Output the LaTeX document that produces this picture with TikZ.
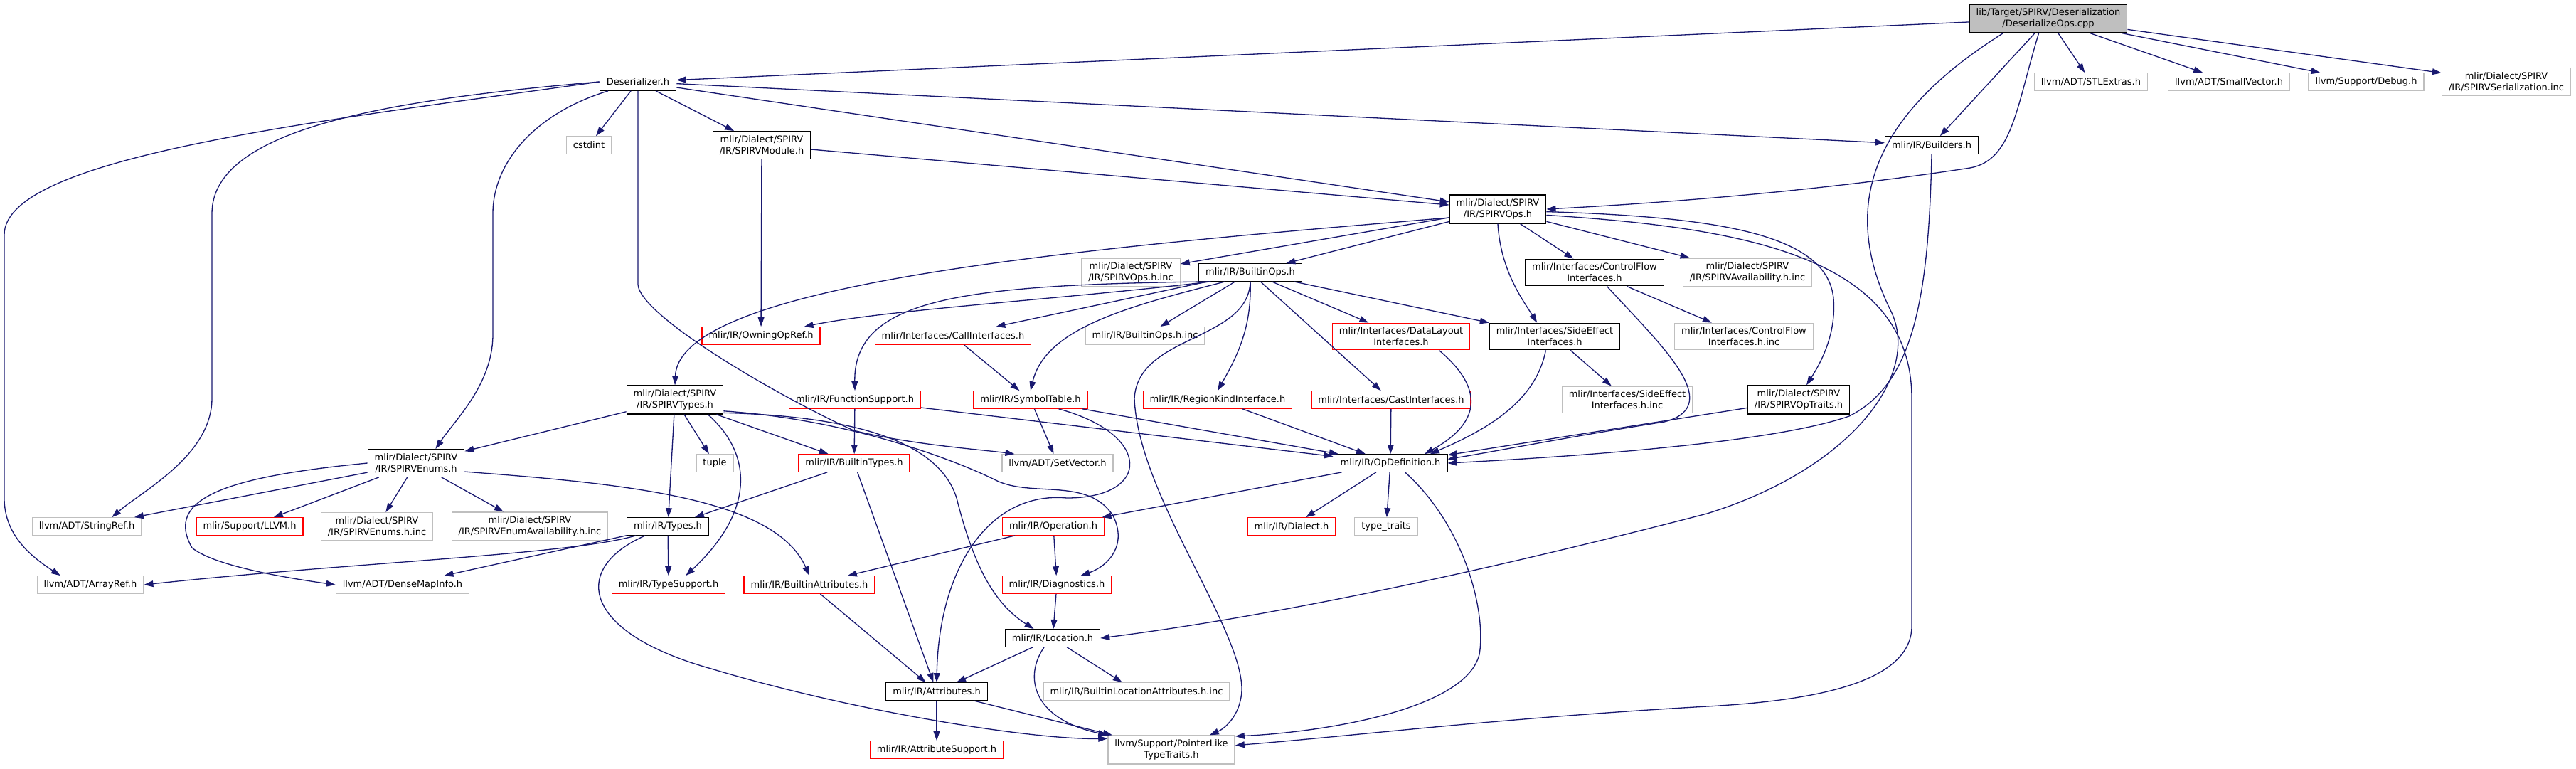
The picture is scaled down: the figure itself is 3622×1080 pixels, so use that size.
\documentclass[tikz,border=0pt]{standalone}
\usepackage{fontspec}
\newfontfamily\graphfont{DejaVu Sans}
\usetikzlibrary{arrows.meta}

\definecolor{edgeblue}{HTML}{191970}
\definecolor{nodegrey}{HTML}{BFBFBF}

\tikzset{
    hdr/.style={rectangle, draw=black, line width=0.75pt, fill=white,
        inner xsep=5.4pt, inner ysep=3.3pt, minimum height=13.9pt,
        align=center, font=\graphfont\fontsize{7.4}{9}\selectfont},
    syshdr/.style={hdr, draw=nodegrey},
    cuthdr/.style={hdr, draw=red},
    srcfile/.style={hdr, fill=nodegrey},
    incl/.style={draw=edgeblue, line width=0.75pt, -{Triangle[length=7.4pt, width=5pt]}},
}

\begin{document}
\begin{tikzpicture}[x=0.02cm, y=-0.02cm]
    \useasboundingbox (0,0) rectangle (3622,1080);

    % Row 0
    \node[srcfile] (root) at ({2880}, {26}) {lib/Target/SPIRV/Deserialization\\/DeserializeOps.cpp};

    % Row 1
    \node[hdr] (deser) at ({897}, {115}) {Deserializer.h};
    \node[syshdr] (stlextras) at ({2940}, {115}) {llvm/ADT/STLExtras.h};
    \node[syshdr] (smallvec) at ({3134}, {115}) {llvm/ADT/SmallVector.h};
    \node[syshdr] (debug) at ({3327}, {115}) {llvm/Support/Debug.h};
    \node[syshdr] (serinc) at ({3524}, {115}) {mlir/Dialect/SPIRV\\/IR/SPIRVSerialization.inc};

    % Row 2
    \node[syshdr] (cstdint) at ({828}, {204}) {cstdint};
    \node[hdr] (module) at ({1071}, {204}) {mlir/Dialect/SPIRV\\/IR/SPIRVModule.h};
    \node[hdr] (builders) at ({2716}, {204}) {mlir/IR/Builders.h};

    % Row 3
    \node[hdr] (spirvops) at ({2106}, {294}) {mlir/Dialect/SPIRV\\/IR/SPIRVOps.h};

    % Row 4
    \node[syshdr] (opsinc) at ({1590}, {383}) {mlir/Dialect/SPIRV\\/IR/SPIRVOps.h.inc};
    \node[hdr] (builtinops) at ({1758}, {383}) {mlir/IR/BuiltinOps.h};
    \node[hdr] (cfiface) at ({2242}, {383}) {mlir/Interfaces/ControlFlow\\Interfaces.h};
    \node[syshdr] (availinc) at ({2457}, {383}) {mlir/Dialect/SPIRV\\/IR/SPIRVAvailability.h.inc};

    % Row 5
    \node[cuthdr] (owning) at ({1070}, {472}) {mlir/IR/OwningOpRef.h};
    \node[cuthdr] (calliface) at ({1340}, {472}) {mlir/Interfaces/CallInterfaces.h};
    \node[syshdr] (builtinopsinc) at ({1610}, {472}) {mlir/IR/BuiltinOps.h.inc};
    \node[cuthdr] (dliface) at ({1970}, {473}) {mlir/Interfaces/DataLayout\\Interfaces.h};
    \node[hdr] (seiface) at ({2186}, {473}) {mlir/Interfaces/SideEffect\\Interfaces.h};
    \node[syshdr] (cfinc) at ({2452}, {473}) {mlir/Interfaces/ControlFlow\\Interfaces.h.inc};

    % Row 6
    \node[hdr] (spirvtypes) at ({949}, {562}) {mlir/Dialect/SPIRV\\/IR/SPIRVTypes.h};
    \node[cuthdr] (funcsupport) at ({1202}, {562}) {mlir/IR/FunctionSupport.h};
    \node[cuthdr] (symtab) at ({1449}, {562}) {mlir/IR/SymbolTable.h};
    \node[cuthdr] (regionkind) at ({1712}, {562}) {mlir/IR/RegionKindInterface.h};
    \node[cuthdr] (castiface) at ({1956}, {562}) {mlir/Interfaces/CastInterfaces.h};
    \node[syshdr] (seinc) at ({2288}, {562}) {mlir/Interfaces/SideEffect\\Interfaces.h.inc};
    \node[hdr] (optraits) at ({2529}, {562}) {mlir/Dialect/SPIRV\\/IR/SPIRVOpTraits.h};

    % Row 7
    \node[hdr] (enums) at ({585}, {651}) {mlir/Dialect/SPIRV\\/IR/SPIRVEnums.h};
    \node[syshdr] (tuple) at ({1005}, {651}) {tuple};
    \node[cuthdr] (builtintypes) at ({1201}, {651}) {mlir/IR/BuiltinTypes.h};
    \node[syshdr] (setvector) at ({1487}, {651}) {llvm/ADT/SetVector.h};
    \node[hdr] (opdef) at ({1955}, {651}) {mlir/IR/OpDefinition.h};

    % Row 8
    \node[syshdr] (stringref) at ({122}, {740}) {llvm/ADT/StringRef.h};
    \node[cuthdr] (llvmh) at ({351}, {740}) {mlir/Support/LLVM.h};
    \node[syshdr] (enumsinc) at ({530}, {740}) {mlir/Dialect/SPIRV\\/IR/SPIRVEnums.h.inc};
    \node[syshdr] (enumavail) at ({745}, {740}) {mlir/Dialect/SPIRV\\/IR/SPIRVEnumAvailability.h.inc};
    \node[hdr] (types) at ({939}, {740}) {mlir/IR/Types.h};
    \node[cuthdr] (operation) at ({1481}, {740}) {mlir/IR/Operation.h};
    \node[cuthdr] (dialect) at ({1816}, {740}) {mlir/IR/Dialect.h};
    \node[syshdr] (typetraits) at ({1949}, {740}) {type\_traits};

    % Row 9
    \node[syshdr] (arrayref) at ({127}, {822}) {llvm/ADT/ArrayRef.h};
    \node[syshdr] (densemap) at ({566}, {822}) {llvm/ADT/DenseMapInfo.h};
    \node[cuthdr] (typesupport) at ({940}, {822}) {mlir/IR/TypeSupport.h};
    \node[cuthdr] (builtinattrs) at ({1138}, {822}) {mlir/IR/BuiltinAttributes.h};
    \node[cuthdr] (diagnostics) at ({1486}, {822}) {mlir/IR/Diagnostics.h};

    % Rows 10 to 12
    \node[hdr] (location) at ({1480}, {897}) {mlir/IR/Location.h};
    \node[hdr] (attributes) at ({1317}, {972}) {mlir/IR/Attributes.h};
    \node[syshdr] (locinc) at ({1598}, {972}) {mlir/IR/BuiltinLocationAttributes.h.inc};
    \node[cuthdr] (attrsupport) at ({1317}, {1054}) {mlir/IR/AttributeSupport.h};
    \node[syshdr] (pointerlike) at ({1647}, {1054}) {llvm/Support/PointerLike\\TypeTraits.h};

    % Edges from the source file
    \draw[incl] (root) -- (deser);
    \draw[incl] (root) -- (builders);
    \draw[incl] (root) -- (stlextras);
    \draw[incl] (root) -- (smallvec);
    \draw[incl] (root) -- (debug);
    \draw[incl] (root) -- (serinc);
    \draw[incl] (root.237) .. controls (2835,150) and (2830,225) .. (2770,236) .. controls (2600,262) and (2400,282) .. (spirvops.east);
    \draw[incl] (root.198) .. controls (2620,170) and (2590,300) .. (2660,440) .. controls (2700,530) and (2600,660) .. (2400,722) .. controls (2100,800) and (1800,865) .. (location.east);

    % Deserializer.h
    \draw[incl] (deser) -- (cstdint);
    \draw[incl] (deser) -- (module);
    \draw[incl] (deser) -- (spirvops);
    \draw[incl] (deser) -- (builders);
    \draw[incl] (deser.west) .. controls (450,170) and (6,220) .. (6,330) -- (6,700) .. controls (6,750) and (40,780) .. (arrayref.163);
    \draw[incl] (deser.west) .. controls (550,140) and (298,180) .. (298,300) -- (298,560) .. controls (298,640) and (200,690) .. (stringref.20);
    \draw[incl] (deser.197) .. controls (750,160) and (693,230) .. (693,300) -- (693,470) .. controls (693,540) and (640,590) .. (enums.36);
    \draw[incl] (deser.south) -- (897,400) .. controls (900,445) and (1100,560) .. (1200,605) .. controls (1280,625) and (1380,632) .. (setvector.168);

    % SPIRVModule.h and Builders.h
    \draw[incl] (module) -- (spirvops);
    \draw[incl] (module) -- (owning);
    \draw[incl] (builders.south) .. controls (2712,420) and (2690,540) .. (2600,585) .. controls (2500,620) and (2250,640) .. (opdef.east);

    % SPIRVOps.h
    \draw[incl] (spirvops) -- (opsinc);
    \draw[incl] (spirvops) -- (builtinops);
    \draw[incl] (spirvops) -- (cfiface);
    \draw[incl] (spirvops) -- (availinc);
    \draw[incl] (spirvops.south) .. controls (2110,380) and (2140,420) .. (seiface.142);
    \draw[incl] (spirvops.190) .. controls (1500,350) and (955,400) .. (spirvtypes.north);
    \draw[incl] (spirvops.-3) .. controls (2420,305) and (2570,330) .. (2578,420) .. controls (2582,470) and (2560,510) .. (optraits.62);
    \draw[incl] (spirvops.-7) .. controls (2450,320) and (2688,360) .. (2688,560) -- (2688,880) .. controls (2688,960) and (2550,985) .. (2400,993) .. controls (2100,1010) and (1900,1035) .. (pointerlike.4);

    % BuiltinOps.h
    \draw[incl] (builtinops.193) .. controls (1500,420) and (1250,435) .. (owning.12);
    \draw[incl] (builtinops.193) .. controls (1350,400) and (1200,420) .. (funcsupport.north);
    \draw[incl] (builtinops) -- (calliface);
    \draw[incl] (builtinops.200) .. controls (1590,430) and (1470,460) .. (symtab.north);
    \draw[incl] (builtinops) -- (builtinopsinc);
    \draw[incl] (builtinops.south) .. controls (1755,480) and (1600,470) .. (1595,560) .. controls (1600,700) and (1760,900) .. (1745,980) .. controls (1740,1010) and (1720,1025) .. (pointerlike.21);
    \draw[incl] (builtinops.south) .. controls (1760,460) and (1740,500) .. (regionkind.north);
    \draw[incl] (builtinops) -- (castiface);
    \draw[incl] (builtinops) -- (dliface);
    \draw[incl] (builtinops) -- (seiface);

    % interfaces
    \draw[incl] (calliface) -- (symtab);
    \draw[incl] (funcsupport) -- (builtintypes);
    \draw[incl] (funcsupport) -- (opdef);
    \draw[incl] (symtab) -- (setvector);
    \draw[incl] (symtab) -- (opdef);
    \draw[incl] (symtab.342) .. controls (1620,610) and (1620,700) .. (1500,700) .. controls (1390,690) and (1320,800) .. (attributes.north);
    \draw[incl] (regionkind) -- (opdef);
    \draw[incl] (castiface) -- (opdef);
    \draw[incl] (dliface.340) .. controls (2080,540) and (2090,590) .. (opdef.15);
    \draw[incl] (seiface.237) .. controls (2160,560) and (2100,600) .. (opdef.13);
    \draw[incl] (seiface) -- (seinc);
    \draw[incl] (cfiface) -- (cfinc);
    \draw[incl] (cfiface.312) .. controls (2330,480) and (2430,570) .. (2340,593) .. controls (2200,615) and (2100,635) .. (opdef.4);
    \draw[incl] (optraits) -- (opdef.8);

    % OpDefinition.h and below
    \draw[incl] (opdef) -- (operation);
    \draw[incl] (opdef) -- (dialect);
    \draw[incl] (opdef) -- (typetraits);
    \draw[incl] (opdef.328) .. controls (2060,740) and (2090,860) .. (2080,920) .. controls (2060,1000) and (1850,1030) .. (pointerlike.12);
    \draw[incl] (operation) -- (builtinattrs);
    \draw[incl] (operation) -- (diagnostics);
    \draw[incl] (diagnostics) -- (location);
    \draw[incl] (location) -- (attributes);
    \draw[incl] (location) -- (locinc);
    \draw[incl] (location.227) .. controls (1440,950) and (1450,1010) .. (pointerlike.north west);
    \draw[incl] (attributes) -- (attrsupport);
    \draw[incl] (attributes) -- (pointerlike);
    \draw[incl] (builtinattrs) -- (attributes);
    \draw[incl] (builtintypes) -- (attributes);
    \draw[incl] (builtintypes) -- (types);

    % SPIRVTypes.h
    \draw[incl] (spirvtypes) -- (enums);
    \draw[incl] (spirvtypes) -- (tuple);
    \draw[incl] (spirvtypes) -- (types);
    \draw[incl] (spirvtypes) -- (builtintypes);
    \draw[incl] (spirvtypes.336) .. controls (1060,640) and (1060,720) .. (typesupport.28);
    \draw[incl] (spirvtypes.345) .. controls (1200,585) and (1320,620) .. (1345,700) .. controls (1370,800) and (1400,850) .. (location.154);
    \draw[incl] (spirvtypes.347) .. controls (1200,590) and (1350,650) .. (1400,675) .. controls (1450,700) and (1530,670) .. (1565,725) .. controls (1585,765) and (1560,795) .. (diagnostics.21);

    % SPIRVEnums.h
    \draw[incl] (enums) -- (stringref);
    \draw[incl] (enums) -- (llvmh);
    \draw[incl] (enums) -- (enumsinc);
    \draw[incl] (enums) -- (enumavail);
    \draw[incl] (enums.west) .. controls (320,670) and (230,700) .. (270,770) .. controls (300,795) and (400,812) .. (densemap.west);
    \draw[incl] (enums.350) .. controls (880,680) and (1090,700) .. (builtinattrs.north);

    % Types.h
    \draw[incl] (types.196) .. controls (800,780) and (500,790) .. (arrayref.east);
    \draw[incl] (types) -- (densemap);
    \draw[incl] (types) -- (typesupport);
    \draw[incl] (types.202) .. controls (800,800) and (820,890) .. (1000,940) .. controls (1200,1000) and (1450,1040) .. (pointerlike.170);
\end{tikzpicture}
\end{document}
